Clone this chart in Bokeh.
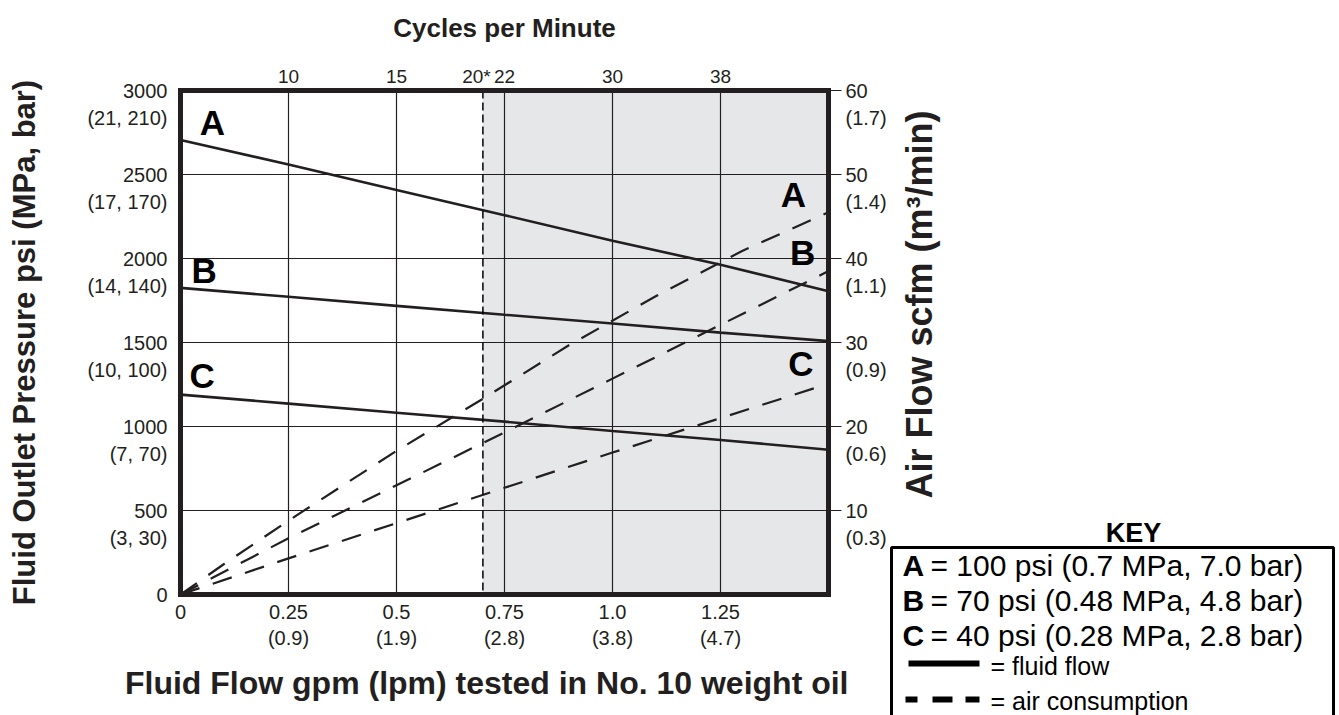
import math
from bokeh.plotting import figure
from bokeh.models import Range1d, LinearAxis, FixedTicker, BoxAnnotation, Span, GridBox
from bokeh.core.properties import value
from bokeh.embed import file_html
from bokeh.resources import INLINE

# ---------------- data ----------------
flow_gpm = [0, 0.25, 0.5, 0.75, 1.0, 1.25, 1.5]
fluid_A = [2705, 2560, 2408, 2258, 2106, 1963, 1805]
fluid_B = [1825, 1772, 1718, 1665, 1613, 1559, 1508]
fluid_C = [1190, 1136, 1082, 1029, 973, 920, 862]

airA_gpm = [0, 0.1, 0.25, 0.5, 0.7, 0.9, 1.1, 1.3, 1.5]
air_A = [0, 3.6, 8.8, 17.1, 23.3, 29.7, 35.5, 40.9, 45.5]
air_B = [0, 6.7, 13.0, 19.3, 25.7, 32.1, 38.5]
air_C = [0, 4.3, 8.5, 12.7, 16.9, 21.0, 25.1]

limit_gpm = 0.70          # 20* cycles per minute
limit_label = "20*"

psi_ticks = [0, 500, 1000, 1500, 2000, 2500, 3000]
psi_labels = ["0", "500", "1000", "1500", "2000", "2500", "3000"]
psi_metric = ["", "(3, 30)", "(7, 70)", "(10, 100)", "(14, 140)", "(17, 170)", "(21, 210)"]

scfm_ticks = [10, 20, 30, 40, 50, 60]
scfm_labels = ["10", "20", "30", "40", "50", "60"]
scfm_metric = ["(0.3)", "(0.6)", "(0.9)", "(1.1)", "(1.4)", "(1.7)"]

gpm_ticks = [0, 0.25, 0.5, 0.75, 1.0, 1.25]
gpm_labels = ["0", "0.25", "0.5", "0.75", "1.0", "1.25"]
lpm_labels = ["", "(0.9)", "(1.9)", "(2.8)", "(3.8)", "(4.7)"]

cpm_ticks = [0.25, 0.5, 0.75, 1.0, 1.25]
cpm_labels = ["10", "15", "22", "30", "38"]

curve_letters = ["A", "B", "C", "A", "B", "C"]
letter_gpm = [0.074, 0.055, 0.050, 1.419, 1.440, 1.436]
letter_psi = [2812, 1927, 1301, 2382, 2034, 1373]

title_top = "Cycles per Minute"
title_bottom = "Fluid Flow gpm (lpm) tested in No. 10 weight oil"
title_left = "Fluid Outlet Pressure psi (MPa, bar)"
title_right = "Air Flow scfm (m³/min)"

key_title = "KEY"
key_letters = ["A", "B", "C"]
key_texts = ["= 100 psi (0.7 MPa, 7.0 bar)", "= 70 psi (0.48 MPa, 4.8 bar)", "= 40 psi (0.28 MPa, 2.8 bar)"]
key_line_texts = ["= fluid flow", "= air consumption"]

# ---------------- style ----------------
INK = "#231f20"
FONT = "Liberation Sans"
TICK_PX = "20px"

W, H = 1339, 715
FL, FR, FT, FB = 180, 828, 90, 594      # frame edges on the canvas
p = figure(width=W, height=H, x_range=Range1d(0, 1.5), y_range=Range1d(0, 3000),
           output_backend="svg", toolbar_location=None,
           min_border_left=FL, min_border_right=W - FR, min_border_top=FT,
           min_border_bottom=H - FB)
p.frame_align = False
p.extra_y_ranges = {"air": Range1d(0, 60)}
p.background_fill_color = "white"
p.border_fill_color = "white"
p.outline_line_color = INK
p.outline_line_width = 5

def style_axis(ax):
    ax.axis_line_color = None
    ax.minor_tick_line_color = None
    ax.major_label_text_font = FONT
    ax.major_label_text_font_size = TICK_PX
    ax.major_label_text_color = INK
    ax.major_label_text_line_height = 1.23
    ax.axis_label_text_font = FONT
    ax.axis_label_text_font_style = "bold"
    ax.axis_label_text_color = INK

# bottom axis
xb = p.xaxis[0]
style_axis(xb)
xb.ticker = FixedTicker(ticks=gpm_ticks)
xb.major_label_overrides = {t: (a + ("\n" + b if b else "")) for t, a, b in zip(gpm_ticks, gpm_labels, lpm_labels)}
xb.major_label_text_line_height = 1.2
xb.major_tick_line_color = None
xb.major_label_standoff = 0

# left axis
yl = p.yaxis[0]
style_axis(yl)
yl.ticker = FixedTicker(ticks=psi_ticks)
yl.major_label_overrides = {t: (" \n" + a + "\n" + b if b else a) for t, a, b in zip(psi_ticks, psi_labels, psi_metric)}
yl.major_tick_line_color = None
yl.major_label_standoff = 7
yl.axis_label = title_left
yl.axis_label_text_font_size = "31px"
yl.axis_label_standoff = 42

# top axis
xt = LinearAxis()
style_axis(xt)
xt.ticker = FixedTicker(ticks=cpm_ticks)
xt.major_label_overrides = {t: s for t, s in zip(cpm_ticks, cpm_labels)}
xt.major_label_text_font_size = "19px"
xt.major_label_text_line_height = 1.2
xt.major_tick_line_color = None
xt.major_label_standoff = 2
xt.axis_label = title_top
xt.axis_label_text_font_size = "26px"
xt.axis_label_standoff = 24
p.add_layout(xt, "above")

# right axis
yr = LinearAxis(y_range_name="air")
style_axis(yr)
yr.ticker = FixedTicker(ticks=scfm_ticks)
yr.major_label_overrides = {t: " \n" + a + "\n" + b for t, a, b in zip(scfm_ticks, scfm_labels, scfm_metric)}
yr.major_tick_line_color = INK
yr.major_tick_line_width = 1
yr.major_tick_out = 13
yr.major_tick_in = 0
yr.major_label_standoff = 4
p.add_layout(yr, "right")

# grids
p.xgrid.ticker = FixedTicker(ticks=gpm_ticks)
p.ygrid.ticker = FixedTicker(ticks=psi_ticks)
for g in (p.xgrid[0], p.ygrid[0]):
    g.grid_line_color = INK
    g.grid_line_width = 1.2
    g.grid_line_alpha = 1

# shaded region beyond the 20 cpm limit
p.add_layout(BoxAnnotation(left=limit_gpm, fill_color="#e6e7e8", fill_alpha=1,
                           line_color=None, level="image"))
p.add_layout(Span(location=limit_gpm, dimension="height", line_color="black",
                  line_width=1.5, line_dash="8 4"))

# fluid flow (solid)
for ys in (fluid_A, fluid_B, fluid_C):
    p.line(flow_gpm, ys, line_color=INK, line_width=2.6)
# air consumption (dashed)
p.line(airA_gpm, air_A, y_range_name="air", line_color=INK, line_width=2.2, line_dash="20 14")
p.line(flow_gpm, air_B, y_range_name="air", line_color=INK, line_width=2.2, line_dash="20 14")
p.line(flow_gpm, air_C, y_range_name="air", line_color=INK, line_width=2.2, line_dash="20 14")

p.text(x=letter_gpm, y=letter_psi, text=curve_letters, text_font=value(FONT),
       text_font_style="bold", text_font_size="35px", text_color="black",
       text_align="center", text_baseline="middle")

# ---------------- overlay (same size, transparent) for items outside the frame ----------------
ov = figure(width=W, height=H, x_range=Range1d(0, W), y_range=Range1d(H, 0),
            x_axis_type=None, y_axis_type=None, min_border=0,
            output_backend="svg", toolbar_location=None,
            background_fill_color=None, border_fill_color=None, outline_line_color=None)
ov.frame_align = False

def otext(x, y, t, size, bold=False, align="left", angle=0.0, color="black"):
    ov.text(x=[x], y=[y], text=[t], text_font=value(FONT), text_font_size=size,
            text_font_style="bold" if bold else "normal", text_color=color,
            text_align=align, text_baseline="middle", angle=angle)

# thick frame border drawn over the shading
ov.quad(left=[FL], right=[FR], top=[FT], bottom=[FB], fill_alpha=0,
        line_color=INK, line_width=5, line_join="miter")

otext(476, 76, limit_label, "19px", align="center", color=INK)
otext(919, 304, title_right, "36px", bold=True, align="center", angle=math.pi / 2, color=INK)
otext(848, 682, title_bottom, "32px", bold=True, align="right", color=INK)

# key
otext(1133, 532, key_title, "27px", bold=True, align="center")
ov.line(x=[891, 891, 1333, 1333], y=[740, 547, 547, 740], line_color="black", line_width=3)
for ly, let, txt in zip([565, 600, 635], key_letters, key_texts):
    otext(902, ly, let, "30px", bold=True)
    otext(930, ly, txt, "30px")
ov.line(x=[908, 979], y=[663, 663], line_color="black", line_width=6)
ov.segment(x0=[905, 932, 965], y0=[699, 699, 699], x1=[917, 952, 979], y1=[699, 699, 699],
           line_color="black", line_width=6)
otext(990, 665, key_line_texts[0], "25px")
otext(990, 700, key_line_texts[1], "25px")

layout = GridBox(children=[(p, 0, 0), (ov, 0, 0)])
open("out.html", "w").write(file_html(layout, INLINE))
